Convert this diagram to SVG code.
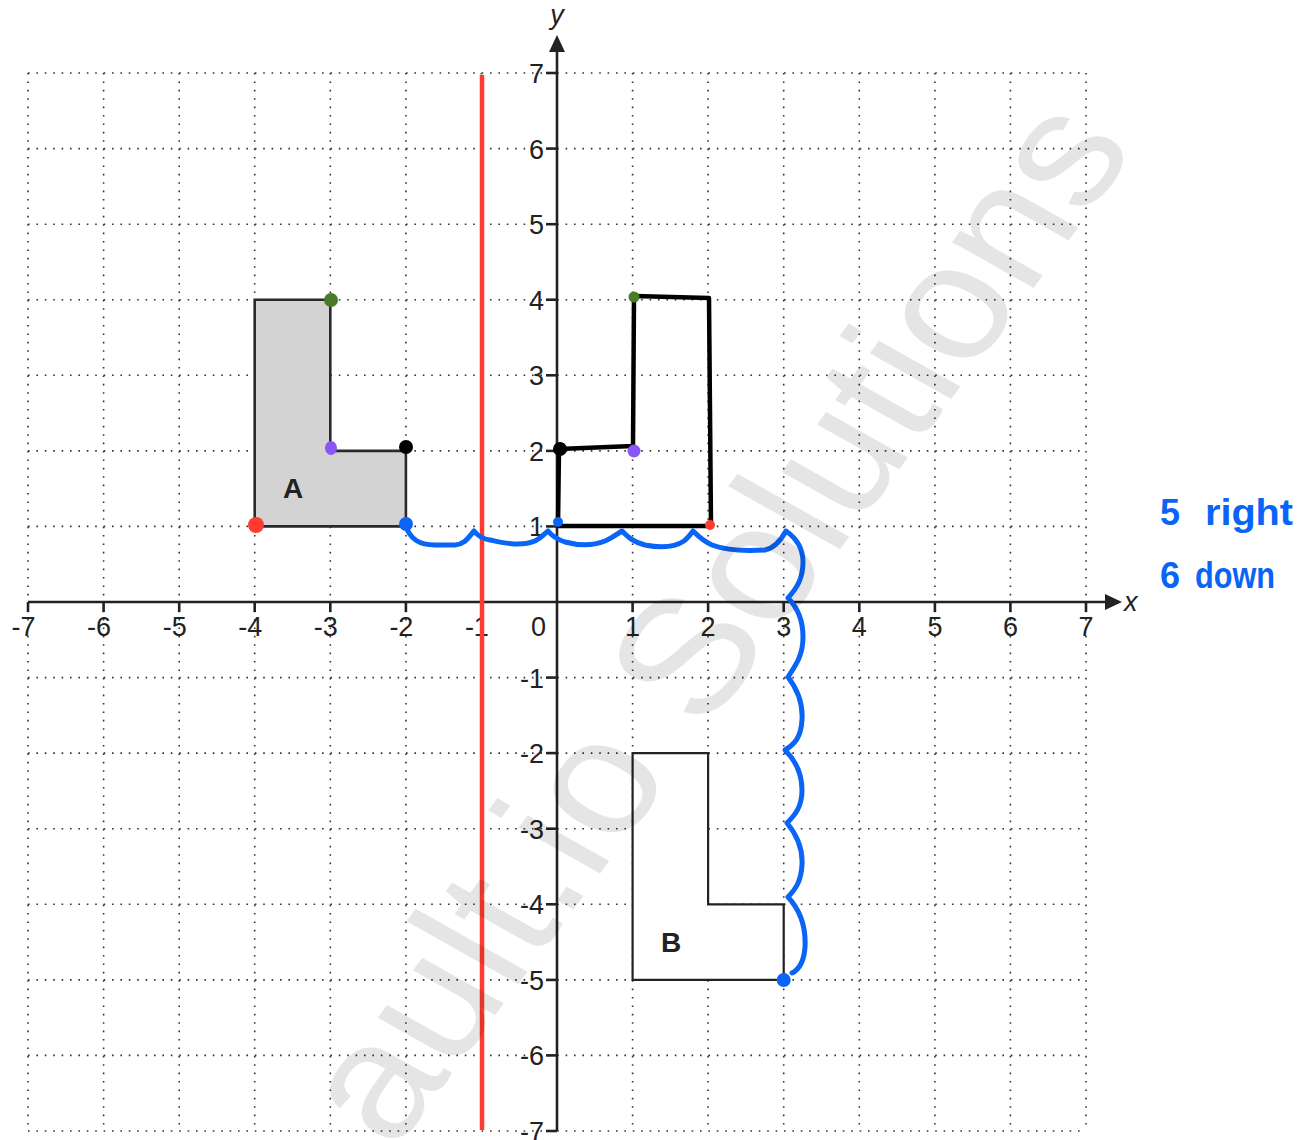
<svg xmlns="http://www.w3.org/2000/svg" width="1310" height="1140" viewBox="0 0 1310 1140">
<style>
.grid line{stroke:#333;stroke-width:1.6;stroke-dasharray:1.6 6.8}
.axis{stroke:#222;stroke-width:2.6;fill:none}
.tick{stroke:#222;stroke-width:2.6}
.lbl{font-family:"Liberation Sans",Arial,sans-serif;font-size:27px;fill:#222}
.nm{font-family:"Liberation Sans",Arial,sans-serif;font-size:28px;font-weight:bold;fill:#222}
.hand{font-family:"Liberation Sans",Arial,sans-serif;font-weight:bold;fill:#0a64f5}
.wm{font-family:"Liberation Sans",Arial,sans-serif;font-size:177px;fill:#000;fill-opacity:0.1}
</style>
<rect x="0" y="0" width="1310" height="1140" fill="#fff"/>
<g id="grid" class="grid">
<line x1="28" y1="73" x2="28" y2="1131"/>
<line x1="103.6" y1="73" x2="103.6" y2="1131"/>
<line x1="179.2" y1="73" x2="179.2" y2="1131"/>
<line x1="254.7" y1="73" x2="254.7" y2="1131"/>
<line x1="330.3" y1="73" x2="330.3" y2="1131"/>
<line x1="405.9" y1="73" x2="405.9" y2="1131"/>
<line x1="481.4" y1="73" x2="481.4" y2="1131"/>
<line x1="632.6" y1="73" x2="632.6" y2="1131"/>
<line x1="708.1" y1="73" x2="708.1" y2="1131"/>
<line x1="783.7" y1="73" x2="783.7" y2="1131"/>
<line x1="859.3" y1="73" x2="859.3" y2="1131"/>
<line x1="934.9" y1="73" x2="934.9" y2="1131"/>
<line x1="1010.4" y1="73" x2="1010.4" y2="1131"/>
<line x1="1086" y1="73" x2="1086" y2="1131"/>
<line x1="28" y1="73" x2="1086" y2="73"/>
<line x1="28" y1="148.6" x2="1086" y2="148.6"/>
<line x1="28" y1="224.2" x2="1086" y2="224.2"/>
<line x1="28" y1="299.7" x2="1086" y2="299.7"/>
<line x1="28" y1="375.3" x2="1086" y2="375.3"/>
<line x1="28" y1="450.9" x2="1086" y2="450.9"/>
<line x1="28" y1="526.4" x2="1086" y2="526.4"/>
<line x1="28" y1="677.6" x2="1086" y2="677.6"/>
<line x1="28" y1="753.1" x2="1086" y2="753.1"/>
<line x1="28" y1="828.7" x2="1086" y2="828.7"/>
<line x1="28" y1="904.3" x2="1086" y2="904.3"/>
<line x1="28" y1="979.9" x2="1086" y2="979.9"/>
<line x1="28" y1="1055.4" x2="1086" y2="1055.4"/>
<line x1="28" y1="1131" x2="1086" y2="1131"/>
</g>
<g id="axes">
<line class="axis" x1="28" y1="602" x2="1108" y2="602"/>
<polygon points="1122,602 1105,594 1105,610" fill="#222"/>
<line class="axis" x1="557" y1="1131" x2="557" y2="49"/>
<polygon points="557,35 549,52 565,52" fill="#222"/>
<g class="tick">
<line x1="28" y1="602" x2="28" y2="612"/>
<line x1="103.6" y1="602" x2="103.6" y2="612"/>
<line x1="179.2" y1="602" x2="179.2" y2="612"/>
<line x1="254.7" y1="602" x2="254.7" y2="612"/>
<line x1="330.3" y1="602" x2="330.3" y2="612"/>
<line x1="405.9" y1="602" x2="405.9" y2="612"/>
<line x1="481.4" y1="602" x2="481.4" y2="612"/>
<line x1="632.6" y1="602" x2="632.6" y2="612"/>
<line x1="708.1" y1="602" x2="708.1" y2="612"/>
<line x1="783.7" y1="602" x2="783.7" y2="612"/>
<line x1="859.3" y1="602" x2="859.3" y2="612"/>
<line x1="934.9" y1="602" x2="934.9" y2="612"/>
<line x1="1010.4" y1="602" x2="1010.4" y2="612"/>
<line x1="1086" y1="602" x2="1086" y2="612"/>
<line x1="546" y1="73" x2="557" y2="73"/>
<line x1="546" y1="148.6" x2="557" y2="148.6"/>
<line x1="546" y1="224.2" x2="557" y2="224.2"/>
<line x1="546" y1="299.7" x2="557" y2="299.7"/>
<line x1="546" y1="375.3" x2="557" y2="375.3"/>
<line x1="546" y1="450.9" x2="557" y2="450.9"/>
<line x1="546" y1="526.4" x2="557" y2="526.4"/>
<line x1="546" y1="677.6" x2="557" y2="677.6"/>
<line x1="546" y1="753.1" x2="557" y2="753.1"/>
<line x1="546" y1="828.7" x2="557" y2="828.7"/>
<line x1="546" y1="904.3" x2="557" y2="904.3"/>
<line x1="546" y1="979.9" x2="557" y2="979.9"/>
<line x1="546" y1="1055.4" x2="557" y2="1055.4"/>
<line x1="546" y1="1131" x2="557" y2="1131"/>
</g>
<g class="lbl" text-anchor="end">
<text x="35.5" y="636">-7</text>
<text x="111.1" y="636">-6</text>
<text x="186.7" y="636">-5</text>
<text x="262.2" y="636">-4</text>
<text x="337.8" y="636">-3</text>
<text x="413.4" y="636">-2</text>
<text x="488.9" y="636">-1</text>
<text x="546" y="636">0</text>
<text x="544" y="83">7</text>
<text x="544" y="158.6">6</text>
<text x="544" y="234.2">5</text>
<text x="544" y="309.7">4</text>
<text x="544" y="385.3">3</text>
<text x="544" y="460.9">2</text>
<text x="544" y="536.4">1</text>
<text x="544" y="687.6">-1</text>
<text x="544" y="763.1">-2</text>
<text x="544" y="838.7">-3</text>
<text x="544" y="914.3">-4</text>
<text x="544" y="989.9">-5</text>
<text x="544" y="1065.4">-6</text>
<text x="544" y="1141">-7</text>
</g>
<g class="lbl" text-anchor="middle">
<text x="632.6" y="636">1</text>
<text x="708.1" y="636">2</text>
<text x="783.7" y="636">3</text>
<text x="859.3" y="636">4</text>
<text x="934.9" y="636">5</text>
<text x="1010.4" y="636">6</text>
<text x="1086" y="636">7</text>
</g>
<text class="lbl" x="1124" y="611" font-style="italic">x</text>
<text class="lbl" x="557" y="24" font-style="italic" text-anchor="middle">y</text>
</g>
<g id="shapeA">
<polygon points="254.7,526.4 254.7,299.7 330.3,299.7 330.3,450.9 405.9,450.9 405.9,526.4" fill="#d3d3d3" stroke="#2a2a2a" stroke-width="2.6"/>
<text class="nm" x="293" y="498" text-anchor="middle">A</text>
</g>
<g id="shapeB">
<polygon points="632.6,753.1 708.1,753.1 708.1,904.3 783.7,904.3 783.7,979.9 632.6,979.9" fill="#fff" stroke="#222" stroke-width="2.2"/>
<text class="nm" x="671" y="952" text-anchor="middle">B</text>
</g>
<g id="mirror-line">
<line x1="482" y1="75" x2="482" y2="1130" stroke="#ff3b30" stroke-width="4.5"/>
</g>
<g id="drawn-shape">
<polyline points="559,449 633,446 634,296 709,298 711,526 558,526 559,449" fill="none" stroke="#000" stroke-width="4.5" stroke-linejoin="round" stroke-linecap="round"/>
</g>
<g id="dots">
<circle cx="331" cy="300" r="7" fill="#4b7a2b"/>
<ellipse cx="331" cy="448" rx="6" ry="7" fill="#8a55f5"/>
<circle cx="406" cy="447" r="7" fill="#000"/>
<circle cx="256" cy="525" r="8" fill="#ff3b30"/>
<circle cx="406" cy="524" r="7" fill="#0a64f5"/>
<circle cx="634" cy="297" r="5.5" fill="#4b7a2b"/>
<circle cx="634" cy="451" r="6.5" fill="#8a55f5"/>
<circle cx="560" cy="449" r="7" fill="#000"/>
<circle cx="558" cy="522" r="5" fill="#0a64f5"/>
<circle cx="710" cy="525" r="5" fill="#ff3b30"/>
<circle cx="783.7" cy="980" r="7" fill="#0a64f5"/>
</g>
<g id="connectors">
<path d="M405,524 C410,540 420,545 435,545 L455,545 C465,544 468,538 474,531 C478,536 482,539 490,540 C505,543 520,547 535,541 C541,538 544,534 548,531 C552,536 556,539 565,542 C580,546 595,545 605,541 C612,538 617,534 622,531 C628,537 633,542 645,545 C660,548 675,547 684,541 C688,538 690,535 693,531 C698,536 703,541 712,545 C728,551 750,551 765,550 C775,548 781,540 786,531 C796,538 803,547 803,562 C803,578 797,588 788,598 C798,608 803,620 803,637 C803,655 796,665 788,677 C798,690 803,705 802,720 C801,737 795,744 785,750 C797,762 802,775 802,790 C802,807 795,815 787,823 C797,835 803,848 802,865 C801,882 795,890 788,897 C800,910 806,928 805,947 C804,962 798,970 792,973" fill="none" stroke="#0a64f5" stroke-width="5" stroke-linecap="round" stroke-linejoin="round"/>
</g>
<g id="note">
<text class="hand" y="525"><tspan x="1160" font-size="36">5</tspan><tspan x="1205" font-size="36" textLength="88" lengthAdjust="spacingAndGlyphs">right</tspan></text>
<text class="hand" y="588"><tspan x="1160" font-size="36">6</tspan><tspan x="1195" font-size="36" textLength="80" lengthAdjust="spacingAndGlyphs">down</tspan></text>
</g>
<g id="watermark">
<text class="wm" x="0" y="0" transform="matrix(0.595 -0.804 0.872 0.49 394 1152)">ault.io Solutions</text>
</g>
</svg>
